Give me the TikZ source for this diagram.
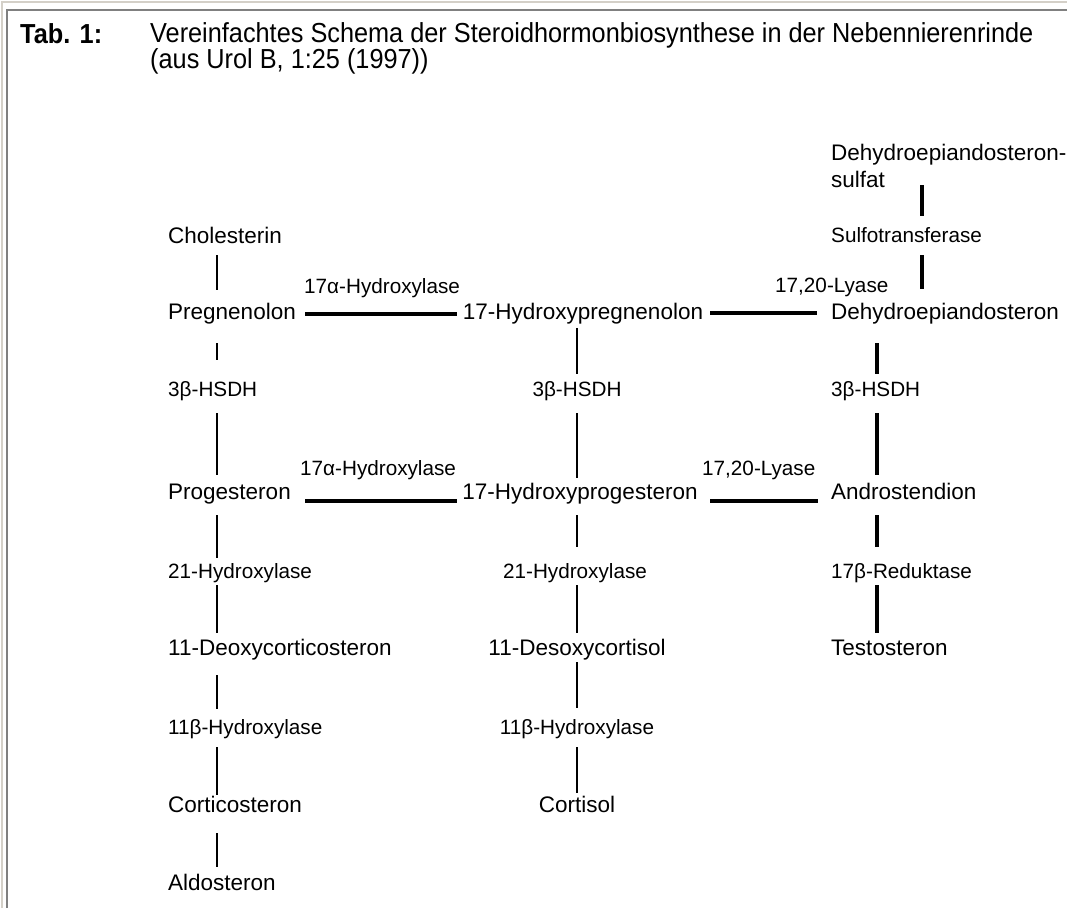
\documentclass[tikz,border=0pt]{standalone}
\usepackage{fontspec}
\setmainfont{Liberation Sans}
\newfontfamily\titlefont[FakeStretch=0.92]{Liberation Sans}
\definecolor{framegray}{HTML}{808080}
\definecolor{framebeige}{HTML}{D4D0C8}
\begin{document}
\begin{tikzpicture}[x=1pt,y=-1pt,
  cmp/.style={anchor=west, inner sep=0pt, font=\fontsize{22.5}{27}\selectfont, text height=16pt, text depth=0pt},
  enz/.style={cmp, font=\fontsize{20.7}{25}\selectfont, text height=15pt},
  vthin/.style={line width=2pt},
  vthick/.style={line width=3.2pt},
  hthick/.style={line width=3.4pt}]
\useasboundingbox (0,0) rectangle (1067,908);
\draw[framebeige, line width=2pt] (1.5,908) -- (1.5,1.5) -- (1067,1.5);
\draw[framegray, line width=2pt] (7,908) -- (7,10) -- (1067,10);
\node[cmp, font=\titlefont\bfseries\fontsize{27.5}{26}\selectfont, text height=20pt] (tab) at (20,33){Tab. 1:};
\node[anchor=north west, inner sep=0pt, align=left, font=\titlefont\fontsize{27.5}{26}\selectfont] (title) at (150,22){Vereinfachtes Schema der Steroidhormonbiosynthese in der Nebennierenrinde\\(aus Urol B, 1:25 (1997))};
\coordinate (ca) at (217,0);
\coordinate (cb) at (577,0);
\coordinate (cc) at (877,0);
\coordinate (cs) at (922,0);
\node[cmp] (chol) at (168,235){Cholesterin};
\node[cmp] (preg) at (168,311){Pregnenolon};
\node[enz] (hsdha) at (168,389){3β-HSDH};
\node[cmp] (prog) at (168,491){Progesteron};
\node[enz] (hyda) at (168,571){21-Hydroxylase};
\node[cmp] (doc) at (168,647){11-Deoxycorticosteron};
\node[enz] (betaa) at (168,727){11β-Hydroxylase};
\node[cmp] (cort) at (168,804){Corticosteron};
\node[cmp] (aldo) at (168,882){Aldosteron};
\draw[vthin, shorten <=12pt, shorten >=13pt] (ca |- chol.south) -- (ca |- preg.north);
\draw[vthin, shorten <=24pt, shorten >=21.5pt] (ca |- preg.south) -- (ca |- hsdha.north);
\draw[vthin, shorten <=16.5pt, shorten >=8pt] (ca |- hsdha.south) -- (ca |- prog.north);
\draw[vthin, shorten <=16pt, shorten >=5.5pt] (ca |- prog.south) -- (ca |- hyda.north);
\draw[vthin, shorten <=6.5pt, shorten >=6pt] (ca |- hyda.south) -- (ca |- doc.north);
\draw[vthin, shorten <=20pt, shorten >=10.5pt] (ca |- doc.south) -- (ca |- betaa.north);
\draw[vthin, shorten <=12.5pt, shorten >=1pt] (ca |- betaa.south) -- (ca |- cort.north);
\draw[vthin, shorten <=21pt, shorten >=7pt] (ca |- cort.south) -- (ca |- aldo.north);
\node[cmp, anchor=center] (ohpreg) at (583,311){17-Hydroxypregnenolon};
\node[enz, anchor=center] (hsdhb) at (577,389){3β-HSDH};
\node[cmp, anchor=center] (ohprog) at (580,491){17-Hydroxyprogesteron};
\node[enz, anchor=center] (hydb) at (575,571){21-Hydroxylase};
\node[cmp, anchor=center] (dcort) at (577,647){11-Desoxycortisol};
\node[enz, anchor=center] (betab) at (577,727){11β-Hydroxylase};
\node[cmp, anchor=center] (cortisol) at (577,804){Cortisol};
\draw[vthin, shorten <=9pt, shorten >=7.5pt] (cb |- ohpreg.south) -- (cb |- hsdhb.north);
\draw[vthin, shorten <=16.5pt, shorten >=5pt] (cb |- hsdhb.south) -- (cb |- ohprog.north);
\draw[vthin, shorten <=16pt, shorten >=16.5pt] (cb |- ohprog.south) -- (cb |- hydb.north);
\draw[vthin, shorten <=6.5pt, shorten >=6pt] (cb |- hydb.south) -- (cb |- dcort.north);
\draw[vthin, shorten <=7pt, shorten >=11.5pt] (cb |- dcort.south) -- (cb |- betab.north);
\draw[vthin, shorten <=12.5pt, shorten >=3pt] (cb |- betab.south) -- (cb |- cortisol.north);
\node[cmp] (dheasa) at (831,152){Dehydroepiandosteron-};
\node[cmp] (dheasb) at (831,179){sulfat};
\node[enz] (sulfo) at (831,235){Sulfotransferase};
\node[cmp] (dhea) at (831,311){Dehydroepiandosteron};
\node[enz] (hsdhc) at (831,389){3β-HSDH};
\node[cmp] (andro) at (831,491){Androstendion};
\node[enz] (red) at (831,571){17β-Reduktase};
\node[cmp] (testo) at (831,647){Testosteron};
\draw[vthick, shorten <=-2pt, shorten >=11.5pt] (cs |- dheasb.south) -- (cs |- sulfo.north);
\draw[vthick, shorten <=12.5pt, shorten >=14pt] (cs |- sulfo.south) -- (cs |- dhea.north);
\draw[vthick, shorten <=24pt, shorten >=7.5pt] (cc |- dhea.south) -- (cc |- hsdhc.north);
\draw[vthick, shorten <=16.5pt, shorten >=8pt] (cc |- hsdhc.south) -- (cc |- andro.north);
\draw[vthick, shorten <=16pt, shorten >=16.5pt] (cc |- andro.south) -- (cc |- red.north);
\draw[vthick, shorten <=6.5pt, shorten >=6pt] (cc |- red.south) -- (cc |- testo.north);
\node[enz] (hydxa) at (304,286){17α-Hydroxylase};
\node[enz] (hydxb) at (300,468){17α-Hydroxylase};
\node[enz] (lyasea) at (775,285){17,20-Lyase};
\node[enz] (lyaseb) at (702,468){17,20-Lyase};
\draw[hthick, shorten <=9.4pt, shorten >=6pt] ([yshift=-3pt]preg.east) -- ([yshift=-3pt]ohpreg.west);
\draw[hthick, shorten <=7pt, shorten >=14pt] ([yshift=-2pt]ohpreg.east) -- ([yshift=-2pt]dhea.west);
\draw[hthick, shorten <=14.4pt, shorten >=5.5pt] ([yshift=-10pt]prog.east) -- ([yshift=-10pt]ohprog.west);
\draw[hthick, shorten <=12.5pt, shorten >=13pt] ([yshift=-10pt]ohprog.east) -- ([yshift=-10pt]andro.west);
\end{tikzpicture}
\end{document}
